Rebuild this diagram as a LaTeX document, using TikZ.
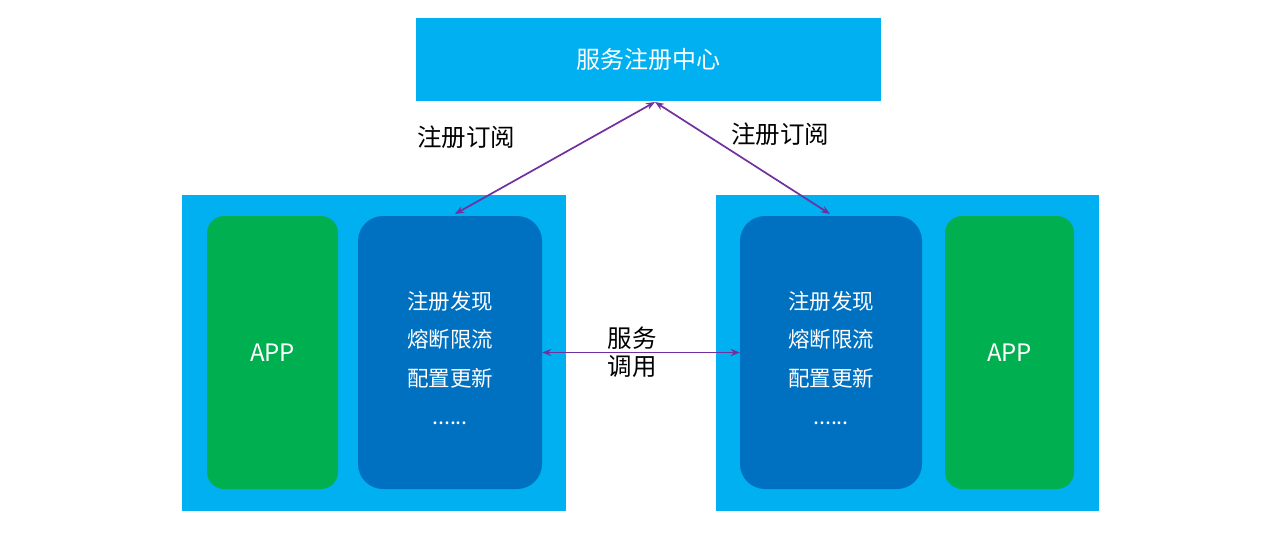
\documentclass[tikz,border=0pt]{standalone}
\usepackage{fontspec}
\setmainfont{Noto Sans CJK SC}
\usetikzlibrary{arrows.meta}
\definecolor{lblue}{HTML}{00B0F0}
\definecolor{dblue}{HTML}{0070C0}
\definecolor{appgreen}{HTML}{00B050}
\definecolor{arr}{HTML}{7030A0}
\tikzset{
  outer/.style={fill=lblue, draw=none},
  appbox/.style={fill=appgreen, draw=none, rounded corners=17pt, text=white, font=\fontsize{24pt}{28pt}\selectfont},
  svcbox/.style={fill=dblue, draw=none, rounded corners=25pt},
  link/.style={draw=arr, line width=1.7pt, {Stealth[length=9pt,width=7pt]}-{Stealth[length=9pt,width=7pt]}},
  wtext/.style={text=white, font=\fontsize{21.5pt}{38.5pt}\selectfont, align=center},
  btext/.style={text=black, font=\fontsize{24.5pt}{28pt}\selectfont, align=center},
}
\begin{document}
\begin{tikzpicture}[x=1pt,y=-1pt]
\useasboundingbox[fill=white] (0,0) rectangle (1280,544);
% top registry
\node[outer, minimum width=465pt, minimum height=83pt, text=white, font=\fontsize{24pt}{28pt}\selectfont] (reg) at (648.5,59.5) {服务注册中心};
% left group
\node[outer, minimum width=384pt, minimum height=316pt] (lout) at (374,353) {};
\node[appbox, minimum width=131pt, minimum height=273pt] (lapp) at (272.5,352.5) {APP};
\node[svcbox, minimum width=184pt, minimum height=273pt] (lsvc) at (450,352.5) {};
\node[wtext] (ltxt) at (450,358) {注册发现\\熔断限流\\配置更新\\......};
% right group
\node[outer, minimum width=383pt, minimum height=316pt] (rout) at (907.5,353) {};
\node[svcbox, minimum width=182pt, minimum height=273pt] (rsvc) at (831,352.5) {};
\node[wtext] (rtxt) at (831,358) {注册发现\\熔断限流\\配置更新\\......};
\node[appbox, minimum width=129pt, minimum height=273pt] (rapp) at (1009.5,352.5) {APP};
% connectors
\coordinate (top) at (655,102);
\coordinate (lend) at (455,214);
\coordinate (rend) at (830,214);
\draw[link] (top) -- (lend);
\draw[link] (top) -- (rend);
\draw[link] (lsvc.east) -- (rsvc.west);
% labels
\node[btext] (l1) at (466,137) {注册订阅};
\node[btext] (l2) at (780,134) {注册订阅};
\node[btext] (l3) at (632,352) {服务\\调用};
\end{tikzpicture}
\end{document}
